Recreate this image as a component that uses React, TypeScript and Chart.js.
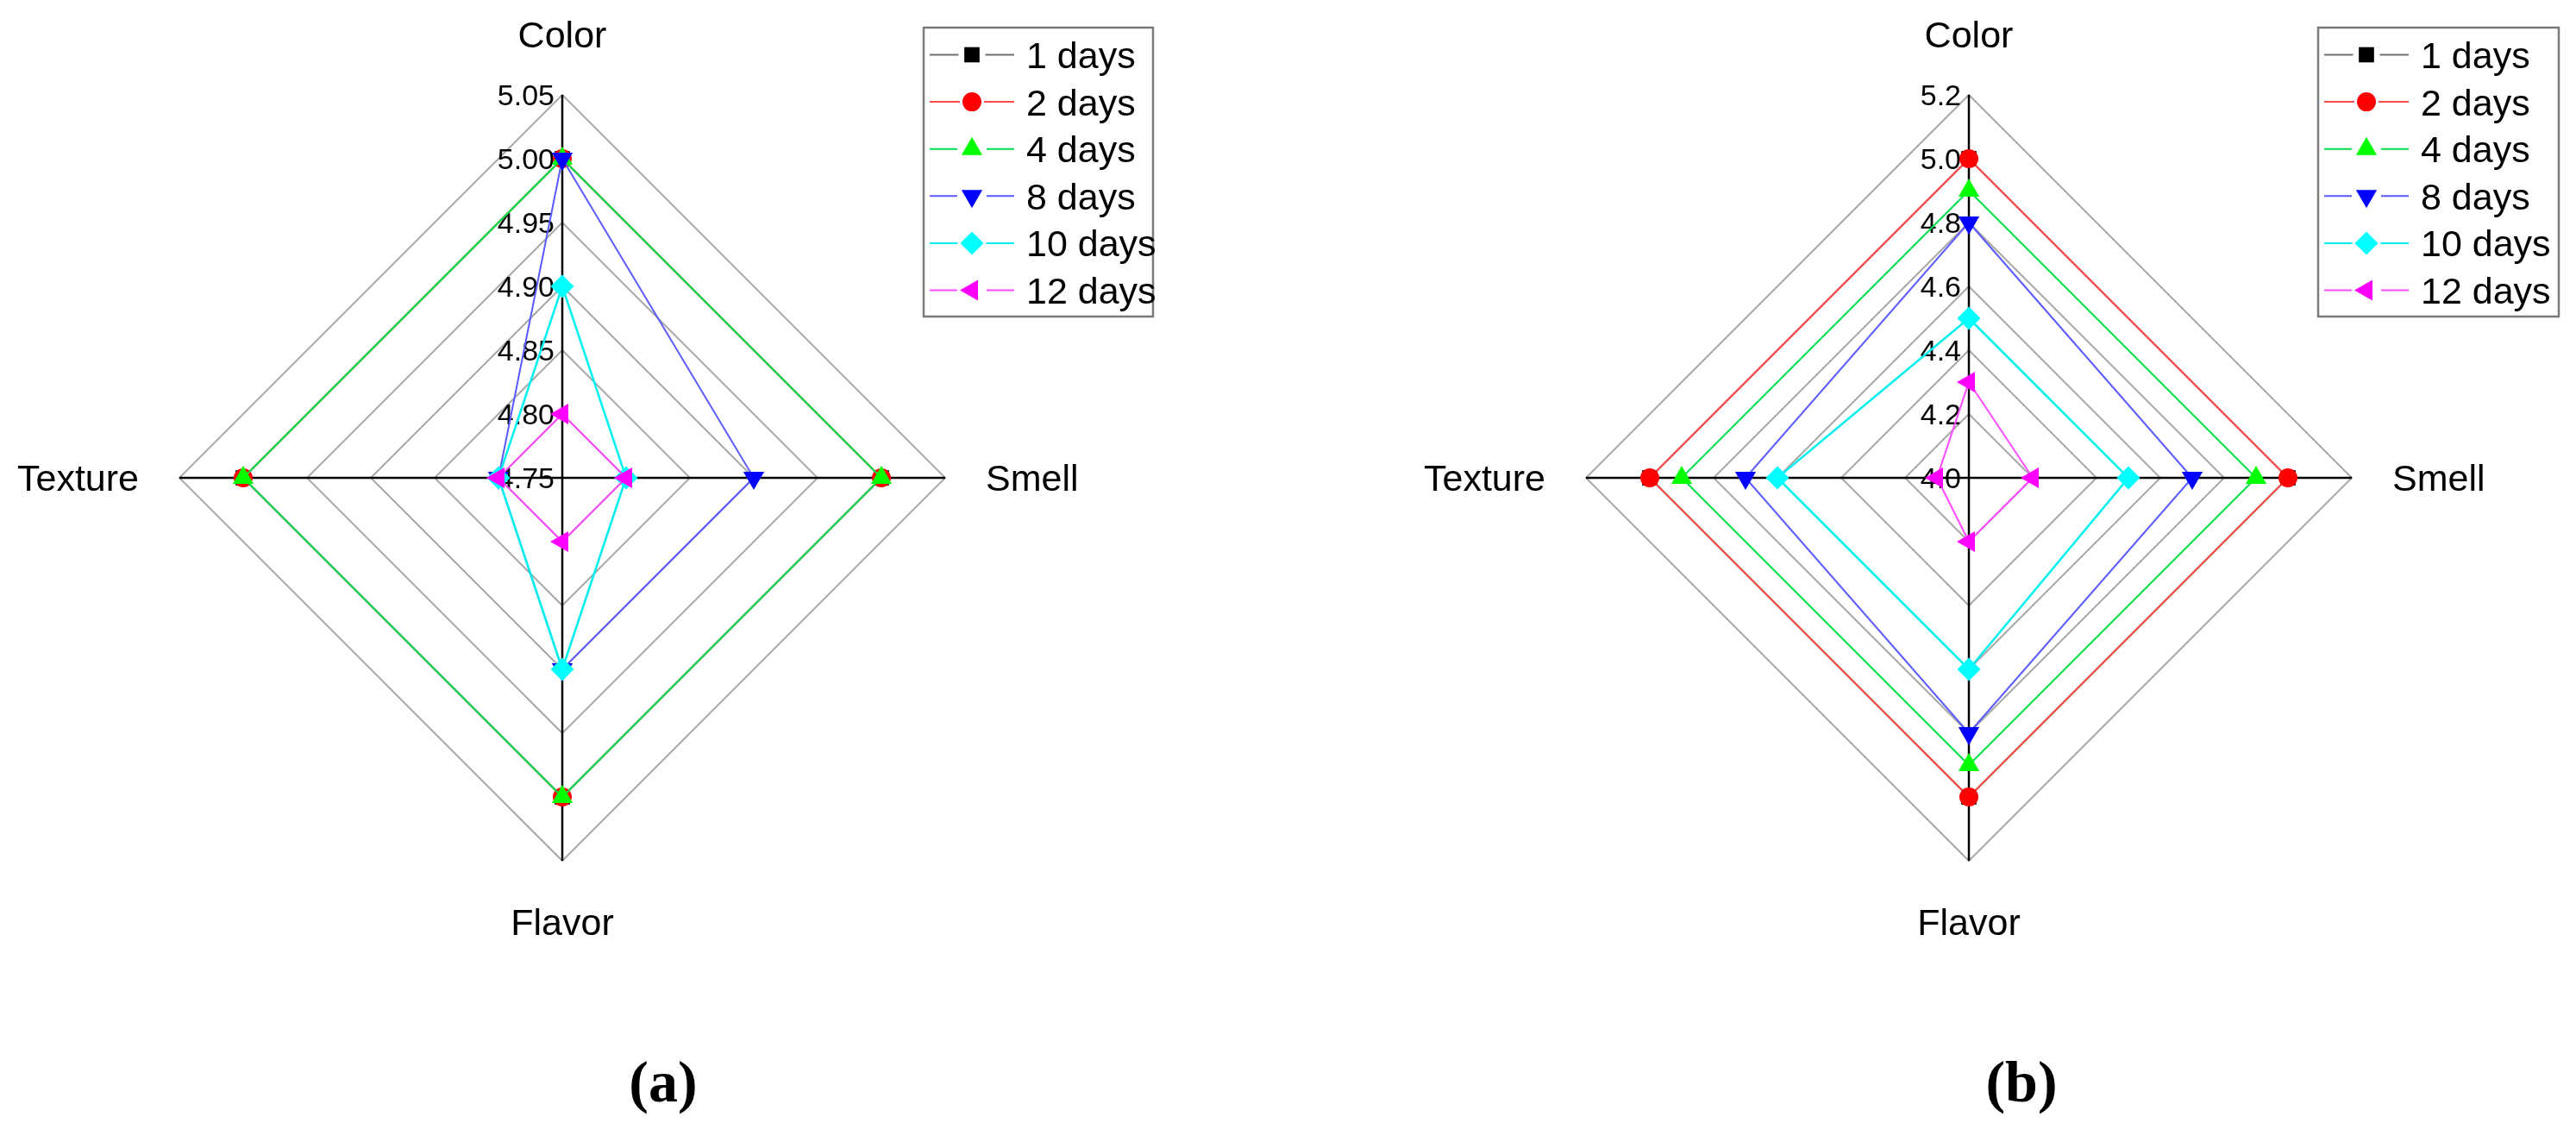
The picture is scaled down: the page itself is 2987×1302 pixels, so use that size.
import React, { useEffect, useRef } from 'react';
import { Chart, registerables } from 'chart.js';

Chart.register(...registerables);

// ---------------- data ----------------
const categories = ['Color', 'Smell', 'Flavor', 'Texture'];
const seriesNames = ['1 days', '2 days', '4 days', '8 days', '10 days', '12 days'];

// panel (a)
const a_day1 = [5.0, 5.0, 5.0, 5.0];
const a_day2 = [5.0, 5.0, 5.0, 5.0];
const a_day4 = [5.0, 5.0, 5.0, 5.0];
const a_day8 = [5.0, 4.9, 4.9, 4.8];
const a_day10 = [4.9, 4.8, 4.9, 4.8];
const a_day12 = [4.8, 4.8, 4.8, 4.8];
const a_ticks = { min: 4.75, max: 5.05, step: 0.05, decimals: 2 };

// panel (b)
const b_day1 = [5.0, 5.0, 5.0, 5.0];
const b_day2 = [5.0, 5.0, 5.0, 5.0];
const b_day4 = [4.9, 4.9, 4.9, 4.9];
const b_day8 = [4.8, 4.7, 4.8, 4.7];
const b_day10 = [4.5, 4.5, 4.6, 4.6];
const b_day12 = [4.3, 4.2, 4.2, 4.1];
const b_ticks = { min: 4.0, max: 5.2, step: 0.2, decimals: 1 };

// ---------------- styles ----------------
const lineColors = ['#6e6e6e', '#ff4a4a', '#00e04a', '#5a5aff', '#00f0f0', '#ff48ff'];
const markerColors = ['#000000', '#ff0000', '#00ff00', '#0000ff', '#00ffff', '#ff00ff'];
const pointStyles = ['rect', 'circle', 'triangle', 'triangle', 'rectRot', 'triangle'];
const pointRotations = [0, 0, 0, 180, 0, 270];
const pointRadii = [12.5, 11, 14, 14, 13.5, 14];

const SANS = '"Liberation Sans", Arial, Helvetica, sans-serif';
const SERIF = '"Liberation Serif", "Times New Roman", serif';

const PAGE_W = 2987;
const PAGE_H = 1302;

function drawMarker(ctx: CanvasRenderingContext2D, style: string, rotDeg: number, x: number, y: number, r: number, color: string) {
  ctx.save();
  ctx.fillStyle = color;
  ctx.beginPath();
  if (style === 'circle') {
    ctx.arc(x, y, r, 0, Math.PI * 2);
  } else if (style === 'rect') {
    const s = Math.SQRT1_2 * r;
    ctx.rect(x - s, y - s, 2 * s, 2 * s);
  } else if (style === 'rectRot') {
    ctx.moveTo(x - r, y);
    ctx.lineTo(x, y - r);
    ctx.lineTo(x + r, y);
    ctx.lineTo(x, y + r);
    ctx.closePath();
  } else {
    let a = (rotDeg * Math.PI) / 180;
    for (let k = 0; k < 3; k++) {
      const px = x + Math.sin(a) * r;
      const py = y - Math.cos(a) * r;
      if (k === 0) ctx.moveTo(px, py);
      else ctx.lineTo(px, py);
      a += (2 * Math.PI) / 3;
    }
    ctx.closePath();
  }
  ctx.fill();
  ctx.restore();
}

type PanelCfg = {
  id: string;
  canvasLeft: number;
  canvasWidth: number;
  centerX: number; // page coords
  centerY: number;
  radius: number;
  series: number[][];
  ticks: { min: number; max: number; step: number; decimals: number };
  legendLeft: number; // page coords
  legendWidth: number;
  panelLabel: string;
  panelLabelX: number; // page coords
};

function makeOverlay(cfg: PanelCfg) {
  return {
    id: 'overlay_' + cfg.id,
    beforeDatasetsDraw(chart: any) {
      const s = chart.scales.r;
      const ctx: CanvasRenderingContext2D = chart.ctx;
      ctx.save();
      ctx.font = `34px ${SANS}`;
      ctx.fillStyle = '#000';
      ctx.textAlign = 'right';
      ctx.textBaseline = 'alphabetic';
      s.ticks.forEach((t: any) => {
        const y = s.yCenter - s.getDistanceFromCenterForValue(t.value);
        ctx.fillText(Number(t.value).toFixed(cfg.ticks.decimals), s.xCenter - 9, y + 12);
      });
      ctx.restore();
    },
    afterDraw(chart: any) {
      const s = chart.scales.r;
      const ctx: CanvasRenderingContext2D = chart.ctx;
      ctx.save();
      // axis (point) labels
      ctx.font = `43px ${SANS}`;
      ctx.fillStyle = '#000';
      ctx.textBaseline = 'alphabetic';
      const capHalf = 15.4;
      categories.forEach((lab, i) => {
        if (i === 0) {
          const p = s.getPointPosition(i, s.drawingArea + 55);
          ctx.textAlign = 'center';
          ctx.fillText(lab, p.x, p.y);
        } else if (i === 1) {
          const p = s.getPointPosition(i, s.drawingArea + 47);
          ctx.textAlign = 'left';
          ctx.fillText(lab, p.x, p.y + capHalf);
        } else if (i === 2) {
          const p = s.getPointPosition(i, s.drawingArea + 55);
          ctx.textAlign = 'center';
          ctx.fillText(lab, p.x, p.y + 31);
        } else {
          const p = s.getPointPosition(i, s.drawingArea + 47);
          ctx.textAlign = 'right';
          ctx.fillText(lab, p.x, p.y + capHalf);
        }
      });

      // legend
      const L = cfg.legendLeft - cfg.canvasLeft;
      const T = 32;
      const H = 335;
      ctx.strokeStyle = '#7a7a7a';
      ctx.lineWidth = 2.5;
      ctx.strokeRect(L, T, cfg.legendWidth, H);
      ctx.font = `43px ${SANS}`;
      ctx.textAlign = 'left';
      seriesNames.forEach((name, k) => {
        const y = T + 31.5 + k * 54.6;
        const mx = L + 56;
        const r = pointRadii[k];
        ctx.strokeStyle = lineColors[k];
        ctx.lineWidth = 2;
        ctx.beginPath();
        ctx.moveTo(L + 7, y);
        ctx.lineTo(mx - r - 3, y);
        ctx.moveTo(mx + r + 3, y);
        ctx.lineTo(L + 105, y);
        ctx.stroke();
        drawMarker(ctx, pointStyles[k], pointRotations[k], mx, y, r, markerColors[k]);
        ctx.fillStyle = '#000';
        ctx.fillText(name, L + 119, y + capHalf);
      });

      // panel label
      ctx.font = `bold 68px ${SERIF}`;
      ctx.textAlign = 'center';
      ctx.fillStyle = '#000';
      ctx.fillText(cfg.panelLabel, cfg.panelLabelX - cfg.canvasLeft, 1277);
      ctx.restore();
    },
  };
}

function RadarPanel({ cfg }: { cfg: PanelCfg }) {
  const ref = useRef<HTMLCanvasElement>(null);
  useEffect(() => {
    if (!ref.current) return;
    const cx = cfg.centerX - cfg.canvasLeft;
    const padLeft = cx - cfg.radius;
    const padRight = cfg.canvasWidth - (cx + cfg.radius);
    const padTop = cfg.centerY - cfg.radius;
    const padBottom = PAGE_H - (cfg.centerY + cfg.radius);
    const datasets = cfg.series.map((vals, i) => ({
      label: seriesNames[i],
      data: vals,
      borderColor: lineColors[i],
      borderWidth: i === 4 ? 2.5 : 2,
      backgroundColor: 'transparent',
      fill: false,
      tension: 0,
      pointStyle: pointStyles[i] as any,
      pointRotation: pointRotations[i],
      pointRadius: pointRadii[i],
      pointHoverRadius: pointRadii[i],
      pointBackgroundColor: markerColors[i],
      pointBorderColor: markerColors[i],
      pointBorderWidth: 0,
      order: seriesNames.length - 1 - i,
    }));
    const chart = new Chart(ref.current, {
      type: 'radar',
      data: { labels: categories, datasets },
      plugins: [makeOverlay(cfg)],
      options: {
        responsive: false,
        animation: false,
        devicePixelRatio: 1,
        events: [],
        layout: { padding: { left: padLeft, right: padRight, top: padTop, bottom: padBottom } },
        plugins: {
          legend: { display: false },
          tooltip: { enabled: false },
          title: { display: false },
        },
        scales: {
          r: {
            min: cfg.ticks.min,
            max: cfg.ticks.max,
            beginAtZero: false,
            ticks: { stepSize: cfg.ticks.step, display: false },
            grid: { color: '#a8a8a8', lineWidth: 2 },
            angleLines: { color: '#000000', lineWidth: 2.5 },
            pointLabels: { display: false },
          },
        },
      } as any,
    });
    return () => chart.destroy();
  }, []);
  return (
    <canvas
      ref={ref}
      width={cfg.canvasWidth}
      height={PAGE_H}
      style={{ position: 'absolute', left: cfg.canvasLeft, top: 0, width: cfg.canvasWidth, height: PAGE_H }}
    />
  );
}

const panelA: PanelCfg = {
  id: 'a',
  canvasLeft: 0,
  canvasWidth: 1493,
  centerX: 652,
  centerY: 554,
  radius: 444,
  series: [a_day1, a_day2, a_day4, a_day8, a_day10, a_day12],
  ticks: a_ticks,
  legendLeft: 1071,
  legendWidth: 266,
  panelLabel: '(a)',
  panelLabelX: 769,
};

const panelB: PanelCfg = {
  id: 'b',
  canvasLeft: 1493,
  canvasWidth: 1494,
  centerX: 2283,
  centerY: 554,
  radius: 444,
  series: [b_day1, b_day2, b_day4, b_day8, b_day10, b_day12],
  ticks: b_ticks,
  legendLeft: 2688,
  legendWidth: 279,
  panelLabel: '(b)',
  panelLabelX: 2344,
};

export default function App() {
  return (
    <div style={{ position: 'fixed', left: 0, top: 0, width: PAGE_W, height: PAGE_H, background: '#ffffff', overflow: 'hidden' }}>
      <RadarPanel cfg={panelA} />
      <RadarPanel cfg={panelB} />
    </div>
  );
}
